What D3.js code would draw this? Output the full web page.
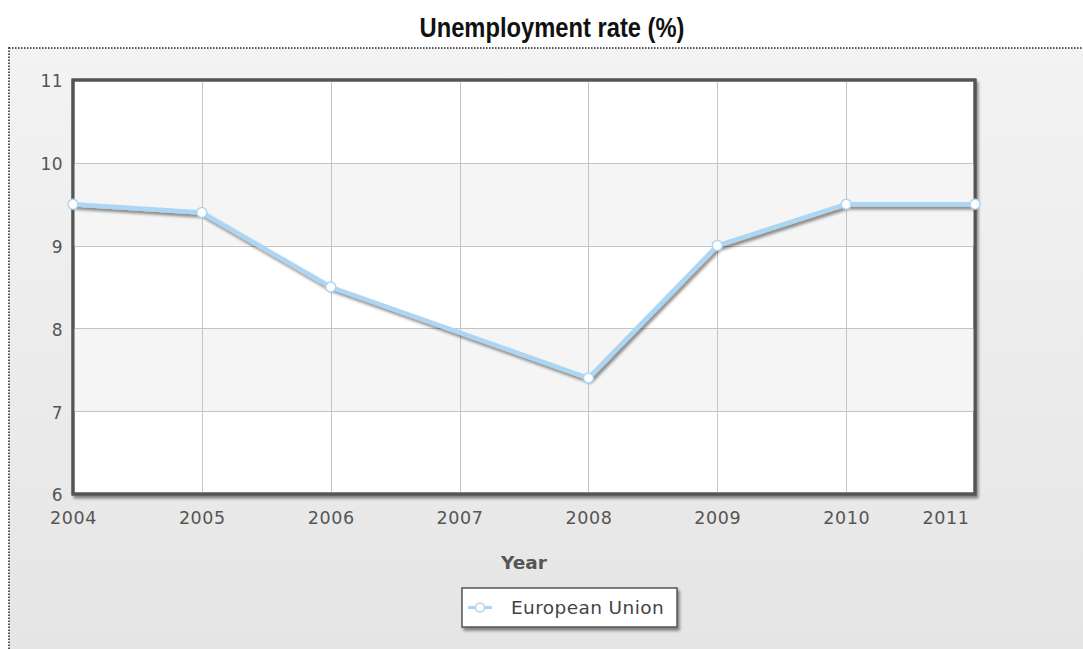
<!DOCTYPE html>
<html><head><meta charset="utf-8">
<script src="https://cdn.jsdelivr.net/npm/d3@7"></script>
<style>body{margin:0;background:#fff;}svg{display:block;}</style>
</head><body>
<svg id="c" width="1083" height="649"></svg>
<script>
const years = [2004, 2005, 2006, 2008, 2009, 2010, 2011];
const rates = [9.5, 9.4, 8.5, 7.4, 9.0, 9.5, 9.5];
const xTicks = [2004, 2005, 2006, 2007, 2008, 2009, 2010, 2011];
const yTicks = [6, 7, 8, 9, 10, 11];
const seriesName = "European Union";
const titleText = "Unemployment rate (%)";
const xTitle = "Year";

const svg = d3.select("#c");
const W = 1083, H = 649;
const m = {l: 73, r: 975, t: 80, b: 494};
const x = d3.scaleLinear().domain([2004, 2011]).range([m.l, m.r]);
const y = d3.scaleLinear().domain([6, 11]).range([m.b, m.t]);

const defs = svg.append("defs");
const g1 = defs.append("linearGradient").attr("id","bg").attr("x1",0).attr("y1",0).attr("x2",0).attr("y2",1);
g1.append("stop").attr("offset","0%").attr("stop-color","#f3f3f3");
g1.append("stop").attr("offset","100%").attr("stop-color","#e5e5e5");
const f = defs.append("filter").attr("id","sh").attr("x","-10%").attr("y","-10%").attr("width","130%").attr("height","130%");
f.append("feGaussianBlur").attr("in","SourceAlpha").attr("stdDeviation",1.5).attr("result","b");
f.append("feOffset").attr("in","b").attr("dx",2).attr("dy",2.5).attr("result","o");
f.append("feComponentTransfer").attr("in","o").attr("result","o2").append("feFuncA").attr("type","linear").attr("slope",0.45);
const fm = f.append("feMerge");
fm.append("feMergeNode").attr("in","o2");
fm.append("feMergeNode").attr("in","SourceGraphic");

// outer background with dotted border
svg.append("rect").attr("x",9).attr("y",48).attr("width",W-9+5).attr("height",H-48+5)
  .attr("fill","url(#bg)").attr("stroke","#555").attr("stroke-width",2).attr("stroke-dasharray","1.5,1.5");

// title
svg.append("text").attr("x",552).attr("y",37).attr("text-anchor","middle")
  .attr("font-family","'Liberation Sans Narrow','Arial Narrow','Liberation Sans',Arial,sans-serif")
  .attr("font-weight","bold").attr("font-size",27).attr("fill","#111")
  .attr("textLength",265).attr("lengthAdjust","spacingAndGlyphs").text(titleText);

// plot bg with shadow
svg.append("rect").attr("x",m.l).attr("y",m.t).attr("width",m.r-m.l).attr("height",m.b-m.t)
  .attr("fill","#fff").attr("stroke","#555").attr("stroke-width",3).attr("filter","url(#sh)");

// alternating bands
const bands = yTicks.slice(0,-1).map((v,i)=>({lo:v,hi:yTicks[i+1],i}));
svg.append("g").selectAll("rect").data(bands.filter(d=>d.i%2===1)).join("rect")
  .attr("x",m.l).attr("width",m.r-m.l).attr("y",d=>y(d.hi)).attr("height",d=>y(d.lo)-y(d.hi))
  .attr("fill","#f5f5f5");

// grid
const grid = svg.append("g").attr("stroke","#c4c4c4").attr("stroke-width",1);
grid.selectAll("line.v").data(xTicks.slice(1,-1)).join("line")
  .attr("x1",d=>Math.round(x(d))+0.5).attr("x2",d=>Math.round(x(d))+0.5).attr("y1",m.t).attr("y2",m.b);
grid.selectAll("line.h").data(yTicks.slice(1,-1)).join("line")
  .attr("y1",d=>Math.round(y(d))+0.5).attr("y2",d=>Math.round(y(d))+0.5).attr("x1",m.l).attr("x2",m.r);

// border
svg.append("rect").attr("x",m.l).attr("y",m.t).attr("width",m.r-m.l).attr("height",m.b-m.t)
  .attr("fill","none").attr("stroke","#555").attr("stroke-width",3);

// axes
const fontF = "'DejaVu Sans',Verdana,sans-serif";
const yAxis = svg.append("g").attr("transform",`translate(${m.l-10},0)`)
  .call(d3.axisLeft(y).tickValues(yTicks).tickSize(0).tickPadding(0).tickFormat(d3.format("d")));
yAxis.select(".domain").remove();
yAxis.selectAll("text").attr("font-family",fontF).attr("font-size",17).attr("letter-spacing",0.4)
  .attr("fill","#555").attr("dy","0.4em");

const xAxis = svg.append("g").attr("transform",`translate(0,${m.b+24})`)
  .call(d3.axisBottom(x).tickValues(xTicks).tickSize(0).tickPadding(0).tickFormat(d3.format("d")));
xAxis.select(".domain").remove();
xAxis.selectAll("text").attr("font-family",fontF).attr("font-size",17.5).attr("letter-spacing",0.6)
  .attr("fill","#555").attr("dy","0.35em");
xAxis.selectAll("g.tick").filter(d=>d===2011).select("text").attr("text-anchor","end").attr("x",-6);

svg.append("text").attr("x",(m.l+m.r)/2).attr("y",569).attr("text-anchor","middle")
  .attr("font-family",fontF).attr("font-weight","bold").attr("font-size",18.5).attr("fill","#555").text(xTitle);

// line
const data = years.map((yr,i)=>({yr, v:rates[i]}));
const line = d3.line().x(d=>x(d.yr)).y(d=>y(d.v));
svg.append("path").datum(data).attr("d",line).attr("fill","none")
  .attr("stroke","#acd6f3").attr("stroke-width",4.5).attr("stroke-linejoin","round").attr("filter","url(#sh)");
svg.append("g").selectAll("circle").data(data).join("circle")
  .attr("cx",d=>x(d.yr)).attr("cy",d=>y(d.v)).attr("r",5)
  .attr("fill","#fff").attr("stroke","#acd6f3").attr("stroke-width",1.5);

// legend
const lg = svg.append("g");
lg.append("rect").attr("x",462).attr("y",588).attr("width",215).attr("height",39)
  .attr("fill","#fff").attr("stroke","#555").attr("stroke-width",1.5).attr("filter","url(#sh)");
lg.append("line").attr("x1",468).attr("x2",492).attr("y1",607.5).attr("y2",607.5)
  .attr("stroke","#acd6f3").attr("stroke-width",3);
lg.append("circle").attr("cx",480).attr("cy",607.5).attr("r",4.5).attr("fill","#fff").attr("stroke","#acd6f3").attr("stroke-width",1.5);
lg.append("text").attr("x",511).attr("y",614).attr("font-family",fontF).attr("font-size",18.5).attr("letter-spacing",0.4)
  .attr("fill","#444").text(seriesName);
</script>
</body></html>
